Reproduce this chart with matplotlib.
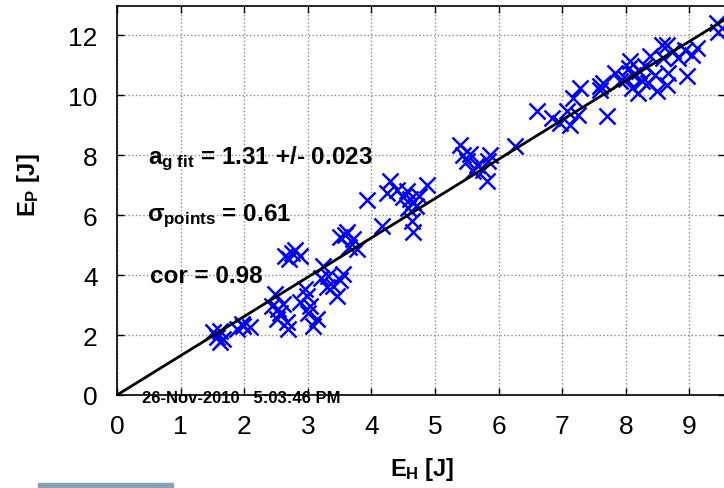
import matplotlib
matplotlib.use("Agg")
import matplotlib.pyplot as plt
from matplotlib.patches import Rectangle

plt.rcParams['font.family'] = ['Liberation Sans', 'DejaVu Sans']
plt.rcParams['mathtext.fontset'] = 'custom'
plt.rcParams['mathtext.rm'] = 'Liberation Sans:bold'
plt.rcParams['mathtext.bf'] = 'Liberation Sans:bold'
plt.rcParams['mathtext.it'] = 'Liberation Sans:bold'

# Measured energies: horizontal (E_H) vs. potential (E_P), in joules
e_h = [1.51, 1.62, 1.67, 1.62, 1.57, 1.89, 1.97, 2.09, 1.98,
       2.48, 2.44, 2.53, 2.61, 2.52, 2.69, 2.67, 2.56, 2.64, 2.80, 2.88, 2.70, 2.75,
       2.99, 3.03, 2.88, 3.14, 3.08, 3.00, 2.95, 3.24, 3.32, 3.40, 3.30, 3.55, 3.50,
       3.46, 3.20, 3.62, 3.71, 3.51, 3.77, 3.58, 3.65,
       3.93, 4.17, 4.29, 4.24, 4.40, 4.56, 4.60, 4.65, 4.58, 4.70, 4.87, 4.64, 4.65,
       4.50, 4.75,
       5.39, 5.44, 5.50, 5.55, 5.60, 5.75, 5.83, 5.82, 5.86, 5.66, 6.26,
       6.60, 6.84, 6.97, 7.12, 7.07, 7.17, 7.28, 7.25,
       7.59, 7.64, 7.59, 7.70, 7.83, 7.91, 8.00, 8.07, 8.11, 8.10, 8.19, 8.25, 8.30,
       8.38, 8.46, 8.49, 8.57, 8.58, 8.66, 8.65, 8.74, 8.82, 8.93, 8.96, 9.04, 9.12,
       9.43, 9.45, 8.65, 8.35, 8.20, 8.05]
e_p = [2.10, 2.14, 1.87, 1.77, 1.95, 2.20, 2.37, 2.27, 2.31,
       3.38, 2.98, 2.88, 3.04, 2.54, 2.20, 2.45, 2.75, 4.65, 4.82, 4.65, 4.55, 4.75,
       3.31, 2.98, 3.10, 2.54, 2.31, 2.75, 3.55, 4.31, 3.98, 3.65, 3.60, 4.05, 3.85,
       3.31, 3.90, 5.45, 5.20, 5.28, 4.88, 5.35, 4.95,
       6.49, 5.65, 7.12, 6.72, 6.82, 6.79, 6.55, 6.45, 6.22, 6.30, 6.99, 5.79, 5.45,
       6.60, 6.65,
       8.33, 7.99, 7.79, 8.05, 7.46, 7.49, 7.79, 7.12, 7.99, 7.66, 8.29,
       9.46, 9.23, 9.06, 9.00, 9.46, 9.90, 10.23, 9.33,
       10.30, 10.40, 10.17, 9.30, 10.74, 10.47, 10.55, 11.14, 10.67, 10.23, 10.07, 10.47, 10.97,
       11.30, 10.67, 10.13, 11.67, 11.24, 10.74, 10.33, 11.47, 11.24, 11.50, 10.64, 11.34, 11.57,
       12.41, 12.10, 11.67, 10.40, 10.80, 10.90]

slope = 1.31
slope_err = 0.023
sigma_points = 0.61
correlation = 0.98

x_ticks = [0, 1, 2, 3, 4, 5, 6, 7, 8, 9]
y_ticks = [0, 2, 4, 6, 8, 10, 12]
x_max = 9.56
y_max = 12.97

fig = plt.figure(figsize=(7.24, 4.89), dpi=100)
ax = fig.add_axes([117 / 724, 93 / 489, (x_max * 63.6) / 724, 389 / 489])

ax.plot(e_h, e_p, linestyle='none', marker='x', color='#0000ff',
        markersize=11, markeredgewidth=1.8, zorder=3)
ax.plot([0, x_max], [0, slope * x_max], color='black', linewidth=2, zorder=4)

ax.set_xlim(0, x_max)
ax.set_ylim(0, y_max)
ax.set_xticks(x_ticks)
ax.set_yticks(y_ticks)
ax.tick_params(direction='in', length=5, width=1, labelsize=19,
               top=True, right=True, pad=14)
ax.grid(True, linestyle=':', color='#8c8c8c', linewidth=1)
for s in ax.spines.values():
    s.set_linewidth(1.2)

note_font = dict(fontsize=17.5, fontweight='bold', va='baseline', ha='left')
ax.text(0.49, 7.73, r'$a_{g\ fit}$' + f' = {slope:.2f} +/- {slope_err:.3f}', **note_font)
ax.text(0.47, 5.82, r'$σ_{points}$' + f' = {sigma_points:.2f}', **note_font)
ax.text(0.52, 3.78, f'cor = {correlation:.2f}', **note_font)

fig.text(142 / 724, 1 - 399 / 489, '26-Nov-2010   5:03:46 PM', fontsize=12,
         fontweight='bold', va='center', ha='left')

fig.text(422 / 724, 1 - 470 / 489, r'$E_H$ [J]', fontsize=17,
         fontweight='bold', ha='center', va='center')
fig.text(28 / 724, 1 - 185 / 489, r'$E_P$ [J]', fontsize=17,
         fontweight='bold', ha='center', va='center', rotation=90)

fig.patches.append(Rectangle((38 / 724, 0), (173 - 38) / 724, 5 / 489,
                             transform=fig.transFigure, color='#8aa0b6'))

fig.savefig('out.png', dpi=100)
